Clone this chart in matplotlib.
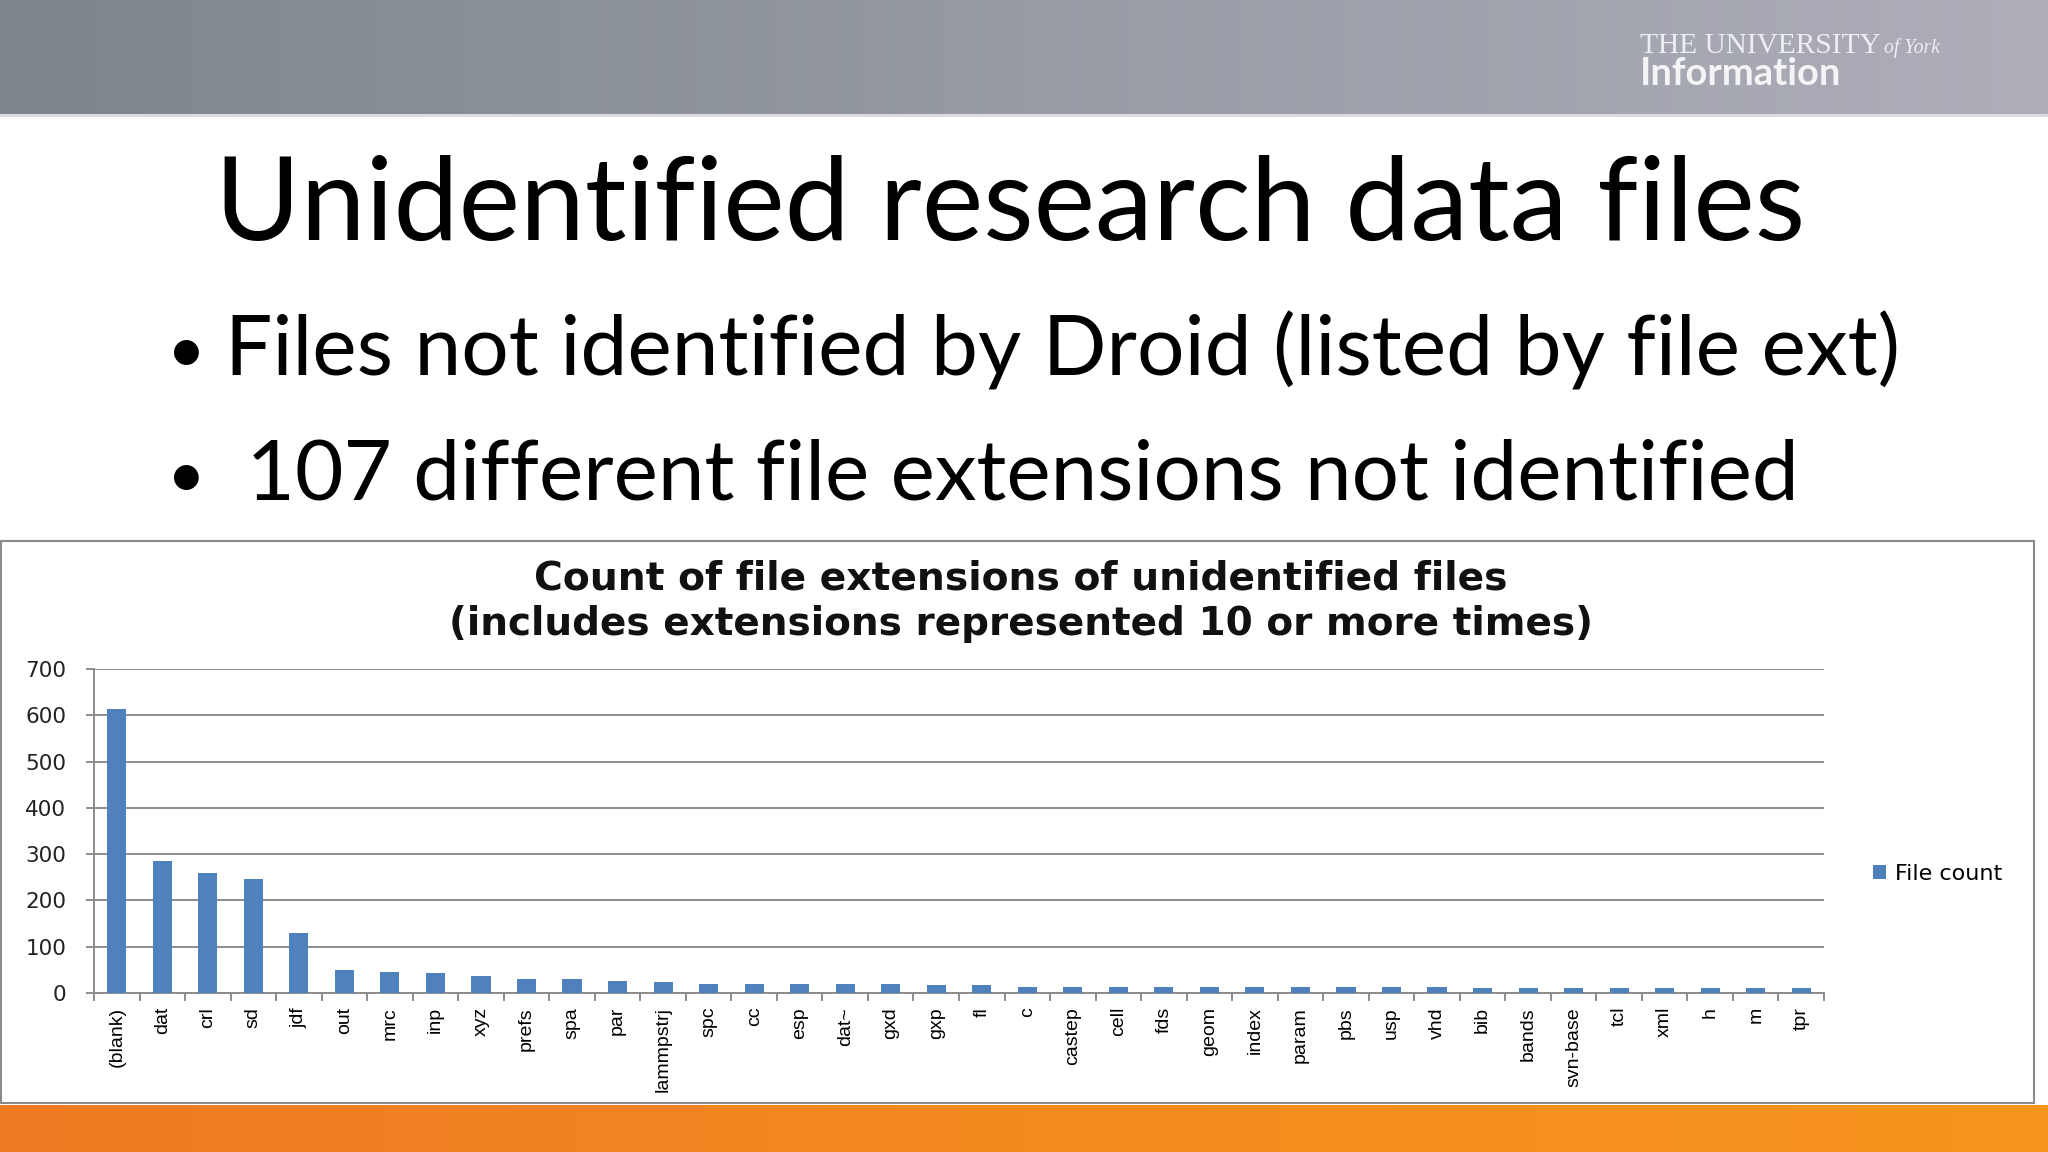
"""Slide: unidentified research data files (Droid file extension counts)."""
import matplotlib

matplotlib.use("Agg")
import matplotlib.pyplot as plt
import numpy as np
from matplotlib.colors import LinearSegmentedColormap
from matplotlib.patches import Rectangle

W, H = 2048, 1152

extensions = ["(blank)", "dat", "crl", "sd", "jdf", "out", "mrc", "inp", "xyz", "prefs",
              "spa", "par", "lammpstrj", "spc", "cc", "esp", "dat~", "gxd", "gxp", "fl",
              "c", "castep", "cell", "fds", "geom", "index", "param", "pbs", "usp", "vhd",
              "bib", "bands", "svn-base", "tcl", "xml", "h", "m", "tpr"]
file_count = [613, 286, 260, 247, 129, 50, 46, 43, 37, 31,
              31, 27, 23, 20, 20, 20, 20, 20, 17, 17,
              14, 14, 14, 14, 14, 14, 14, 14, 14, 14,
              11, 11, 11, 11, 11, 10, 10, 10]
y_ticks = [0, 100, 200, 300, 400, 500, 600, 700]

slide_title = "Unidentified research data files"
bullets = ["Files not identified by Droid (listed by file ext)",
           " 107 different file extensions not identified"]
chart_title = ["Count of file extensions of unidentified files",
               "(includes extensions represented 10 or more times)"]
series_name = "File count"

fig = plt.figure(figsize=(W / 100, H / 100), dpi=100)
bg = fig.add_axes([0, 0, 1, 1])
bg.axis("off")

# header and footer bands
hdr = LinearSegmentedColormap.from_list("hdr", ["#7e858b", "#969ba4", "#aeaeb9"])
ftr = LinearSegmentedColormap.from_list("ftr", ["#ef7a24", "#f38a1f", "#f7951d"])
grad = np.linspace(0, 1, 256)[None, :]
bg.imshow(grad, cmap=hdr, extent=(0, W, 114, 0), aspect="auto")
bg.imshow(grad, cmap=ftr, extent=(0, W, H, 1105), aspect="auto")
bg.add_patch(Rectangle((0, 114), W, 3, color="#dcdce0", lw=0))
bg.add_patch(Rectangle((1, 541), 2033, 562, facecolor="white", edgecolor="#8a8a8a", lw=1.5))
bg.set_xlim(0, W)
bg.set_ylim(H, 0)

renderer = fig.canvas.get_renderer()


def fit_text(x, y, s, target_w, fs, **kw):
    t = bg.text(x, y, s, fontsize=fs, va="baseline", **kw)
    w = t.get_window_extent(renderer).width
    t.set_fontsize(fs * target_w / w)
    return t


# logo
fit_text(1640, 53, "THE UNIVERSITY", 240, 12, color="#eeeef2", family="Liberation Serif")
fit_text(1884, 53, "of York", 56, 12, color="#eeeef2", family="Liberation Serif", style="italic")
fit_text(1640, 85, "Information", 201, 20, color="#f4f4f6", family="Lato", weight="bold")

# slide text
fit_text(1010, 240, slide_title, 1590, 80, ha="center", family="Lato")
t1 = fit_text(225, 375, bullets[0], 1678, 60, family="Lato")
t2 = fit_text(225, 500, bullets[1], 1577, 60, family="Lato")
for yb, t in [(375, t1), (500, t2)]:
    bg.text(186, yb - 2, "\u2022", fontsize=t.get_fontsize() * 0.8, ha="center",
            va="baseline", family="Lato")

fit_text(1021, 590, chart_title[0], 977, 18, ha="center", family="DejaVu Sans", weight="bold", color="#111111")
fit_text(1021, 635, chart_title[1], 1148, 18, ha="center", family="DejaVu Sans", weight="bold", color="#111111")

# chart
ax = fig.add_axes([94 / W, 1 - 993 / H, (1824 - 94) / W, (993 - 669) / H])
x = np.arange(len(extensions))
bars = ax.bar(x, file_count, width=0.42, color="#4f81bd", label=series_name, zorder=3)
ax.set_xlim(-0.5, len(extensions) - 0.5)
ax.set_ylim(0, 700)
ax.set_yticks(y_ticks)
ax.yaxis.grid(True, color="#8c8c8c", lw=1.4, zorder=0)
ax.set_axisbelow(True)
for s in ["top", "right"]:
    ax.spines[s].set_visible(False)
for s in ["left", "bottom"]:
    ax.spines[s].set_color("#8c8c8c")
    ax.spines[s].set_linewidth(1.4)
ax.set_facecolor("none")

ax.set_xticks(x)
ax.set_xticklabels(extensions, rotation=90, fontsize=14, family="Liberation Sans")
ax.set_xticks(np.arange(-0.5, len(extensions)), minor=True)
ax.tick_params(axis="x", which="major", length=0, pad=10)
ax.tick_params(axis="x", which="minor", length=6, width=1.4, color="#8c8c8c")
ax.tick_params(axis="y", length=6, width=1.4, color="#8c8c8c", pad=14,
               labelsize=15.5, labelcolor="#222222")

fig.legend(handles=[bars], labels=[series_name], loc="center left",
           bbox_to_anchor=(1873 / W, 1 - 874 / H), frameon=False, fontsize=16,
           handlelength=0.6, handleheight=0.6, handletextpad=0.4,
           borderaxespad=0, borderpad=0)

fig.savefig("out.png", dpi=100)
